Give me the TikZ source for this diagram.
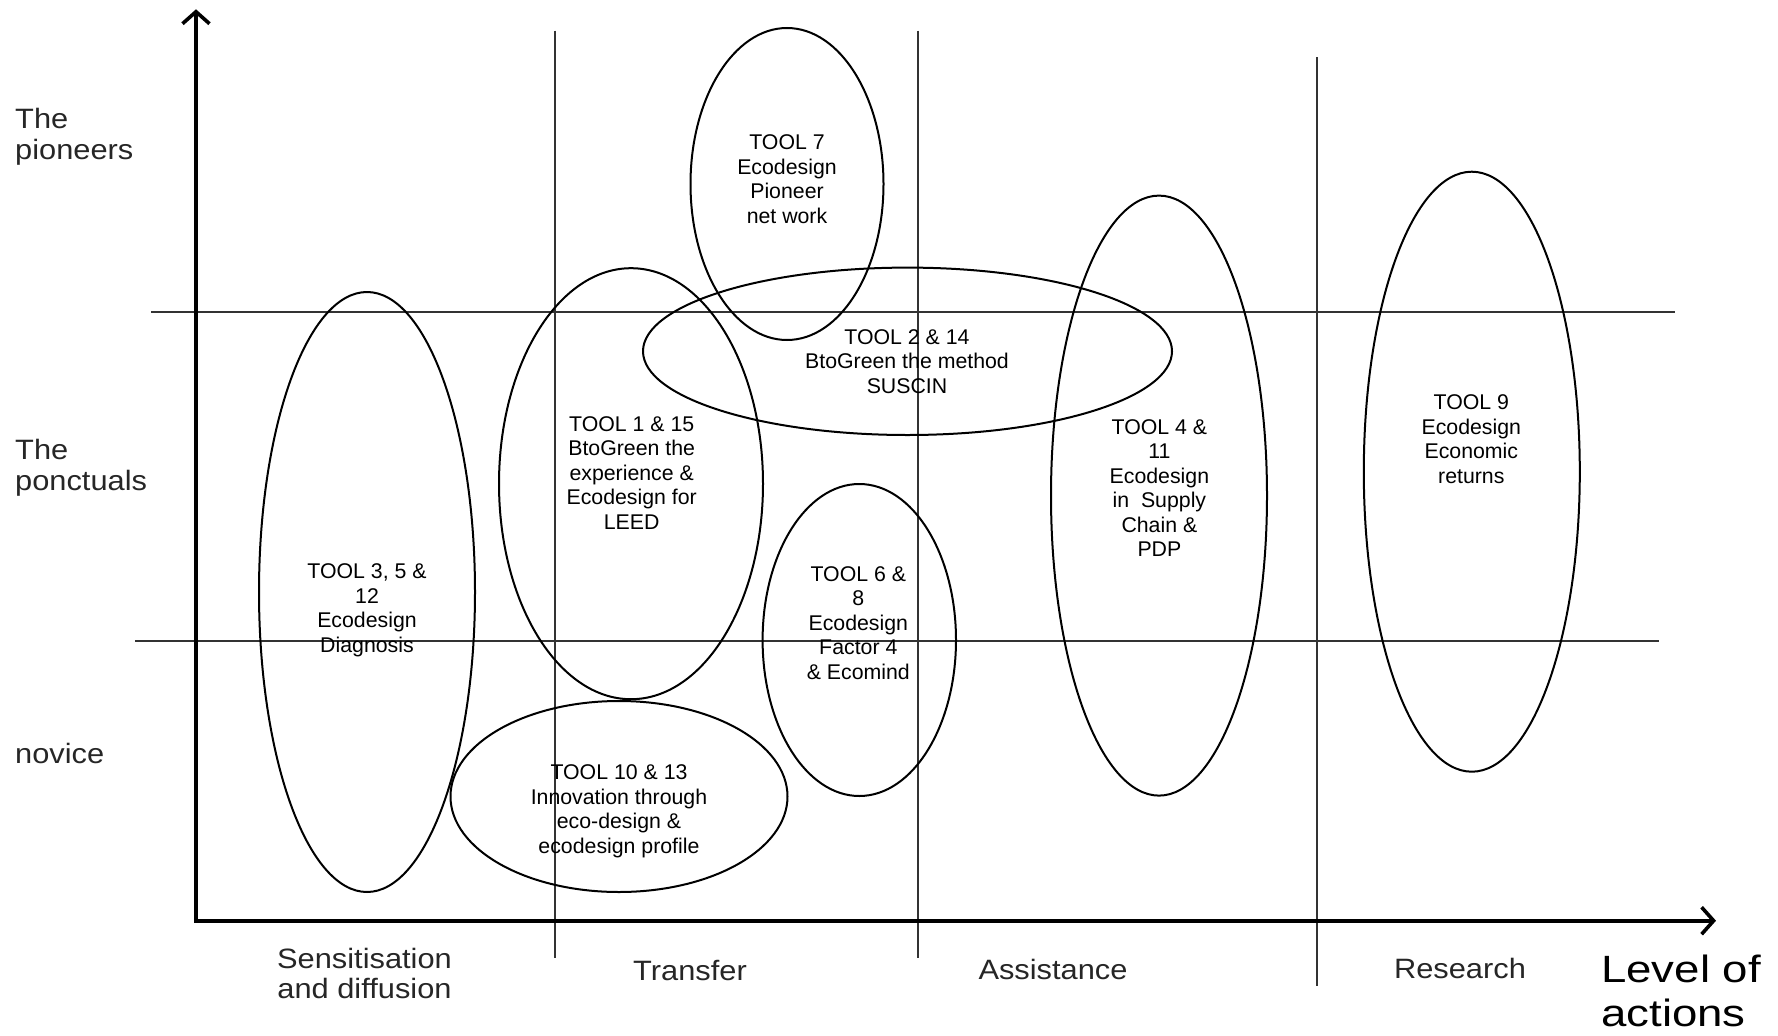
\documentclass[tikz,border=0pt]{standalone}
\usepackage{fontspec}
\setmainfont{Liberation Sans}
\newfontfamily\axisfont[FakeStretch=1.1]{Liberation Sans}
\newfontfamily\levelfont[FakeStretch=1.2]{Liberation Sans}
\usetikzlibrary{arrows.meta}
\begin{document}
\begin{tikzpicture}[x=1pt,y=-1pt,
  gridline/.style={line width=2pt, draw=black!80},
  axisline/.style={line width=3.6pt, line join=miter, {Straight Barb[length=12pt,width=27pt]}-{Straight Barb[length=12pt,width=27pt]}},
  toolring/.style={line width=2pt, draw=black},
  tooltext/.style={font=\fontsize{21.3}{24.5}\selectfont, align=center, anchor=base, inner sep=0pt, text=black},
  axislabel/.style={font=\axisfont\fontsize{28}{31}\selectfont, align=left, anchor=base west, inner sep=0pt, text=black!85},
  catlabel/.style={font=\axisfont\fontsize{28}{30}\selectfont, align=center, anchor=base, inner sep=0pt, text=black!85},
  levellabel/.style={font=\levelfont\fontsize{38}{44}\selectfont, align=left, anchor=base west, inner sep=0pt, text=black}
]
\useasboundingbox (0,0) rectangle (1778,1036);

% grid lines
\coordinate (h1a) at (151,311.7);  \coordinate (h1b) at (1675,311.7);
\coordinate (h2a) at (135,641);    \coordinate (h2b) at (1659,641);
\coordinate (v1a) at (554.5,30.7); \coordinate (v1b) at (554.5,958);
\coordinate (v2a) at (917.6,30.7); \coordinate (v2b) at (917.6,958);
\coordinate (v3a) at (1317,57.3);  \coordinate (v3b) at (1317,986);
\draw[gridline] (h1a) -- (h1b);
\draw[gridline] (h2a) -- (h2b);
\draw[gridline] (v1a) -- (v1b);
\draw[gridline] (v2a) -- (v2b);
\draw[gridline] (v3a) -- (v3b);

% axes
\coordinate (ytip) at (196,9.3);
\coordinate (origin) at (196,920.7);
\coordinate (xtip) at (1716,920.7);
\draw[axisline] (ytip) -- (origin) -- (xtip);

% ellipses
\draw[toolring] (787,184) ellipse [x radius=96.5, y radius=156];
\draw[toolring] (907.5,351.3) ellipse [x radius=264.5, y radius=83.7];
\draw[toolring] (631,483.7) ellipse [x radius=132, y radius=215.5];
\draw[toolring] (367,592) ellipse [x radius=108, y radius=300];
\draw[toolring] (619,796.5) ellipse [x radius=168.5, y radius=95.5];
\draw[toolring] (859.3,640) ellipse [x radius=96.7, y radius=156];
\draw[toolring] (1159,495.6) ellipse [x radius=108, y radius=300];
\draw[toolring] (1471.8,471.7) ellipse [x radius=108, y radius=300];

% tool texts (anchor = baseline of the last line)
\node[tooltext] (t7) at (787,223) {TOOL 7\\Ecodesign\\Pioneer\\net work};
\node[tooltext] (t2) at (907,393) {TOOL 2 \& 14\\BtoGreen the method\\SUSCIN};
\node[tooltext] (t1) at (631.7,529) {TOOL 1 \& 15\\BtoGreen the\\experience \&\\Ecodesign for\\LEED};
\node[tooltext] (t3) at (367,652) {TOOL 3, 5 \&\\12\\Ecodesign\\Diagnosis};
\node[tooltext] (t10) at (619,853) {TOOL 10 \& 13\\Innovation through\\eco-design \&\\ecodesign profile};
\node[tooltext] (t6) at (858.3,679.3) {TOOL 6 \&\\8\\Ecodesign\\Factor 4\\\& Ecomind};
\node[tooltext] (t4) at (1159.4,556.5) {TOOL 4 \&\\11\\Ecodesign\\in\ \ Supply\\Chain \&\\PDP};
\node[tooltext] (t9) at (1471.3,483) {TOOL 9\\Ecodesign\\Economic\\returns};

% level labels (left)
\node[axislabel] (pio) at (15,159) {The\\pioneers};
\node[axislabel] (pon) at (15,490) {The\\ponctuals};
\node[axislabel] (nov) at (15,763) {novice};

% category labels (bottom)
\node[catlabel] (sens) at (364.5,998) {Sensitisation\\and diffusion};
\node[catlabel] (tra) at (690,980) {Transfer};
\node[catlabel] (ass) at (1053,979) {Assistance};
\node[catlabel] (res) at (1460,978) {Research};
\node[levellabel] (lev) at (1601,1026) {Level of\\actions};
\end{tikzpicture}
\end{document}
